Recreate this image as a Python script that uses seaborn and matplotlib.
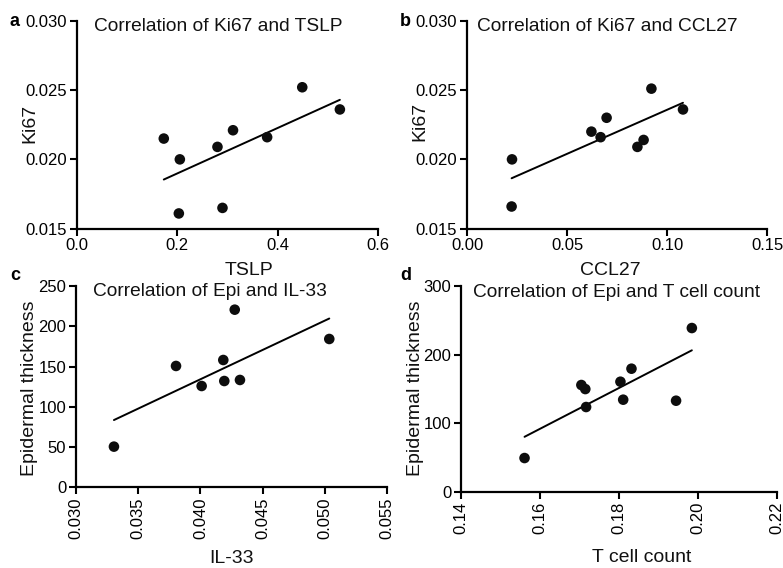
import numpy as np
import pandas as pd
import matplotlib
matplotlib.use("Agg")
import matplotlib.pyplot as plt
import seaborn as sns

sns.set_theme(style="ticks")
plt.rcParams['font.family'] = ['Liberation Sans', 'DejaVu Sans']

# Panel a: Ki67 vs TSLP
tslp = [0.173, 0.205, 0.203, 0.280, 0.290, 0.311, 0.379, 0.449, 0.524]
ki67_a = [0.0215, 0.0200, 0.0161, 0.0209, 0.0165, 0.0221, 0.0216, 0.0252, 0.0236]
# Panel b: Ki67 vs CCL27
ccl27 = [0.0225, 0.0223, 0.0622, 0.0668, 0.0698, 0.0852, 0.0883, 0.0922, 0.1080]
ki67_b = [0.0200, 0.0166, 0.0220, 0.0216, 0.0230, 0.0209, 0.0214, 0.0251, 0.0236]
# Panel c: Epidermal thickness vs IL-33
il33 = [0.03305, 0.03804, 0.0401, 0.04184, 0.04192, 0.04318, 0.04276, 0.05036]
epi_c = [50.5, 150.7, 125.8, 158.1, 132.0, 133.3, 220.6, 184.2]
# Panel d: Epidermal thickness vs T cell count
tcell = [0.1561, 0.1705, 0.1715, 0.1717, 0.1804, 0.1811, 0.1832, 0.1945, 0.1985]
epi_d = [49.1, 155.6, 149.7, 123.5, 160.4, 134.2, 179.4, 132.7, 238.7]

W, H = 783, 568
fig = plt.figure(figsize=(W / 100, H / 100), dpi=100)


def ax_at(l, r, t, b):
    return fig.add_axes([l / W, 1 - b / H, (r - l) / W, (b - t) / H])


panels = [
    dict(box=(77, 378, 20.7, 228.7), x=tslp, y=ki67_a, xl="TSLP", yl="Ki67",
         title="Correlation of Ki67 and TSLP", xlim=(0, 0.6), xt=[0.0, 0.2, 0.4, 0.6], xfmt="{:.1f}",
         ylim=(0.015, 0.030), yt=[0.015, 0.020, 0.025, 0.030], yfmt="{:.3f}", rot=0,
         xlc=(0.571, -0.199), ylc=(-0.156, 0.508), tpos=(94, 26.7), letter="a", lpos=(10, 21)),
    dict(box=(467, 767, 20.7, 228.7), x=ccl27, y=ki67_b, xl="CCL27", yl="Ki67",
         title="Correlation of Ki67 and CCL27", xlim=(0, 0.15), xt=[0.0, 0.05, 0.10, 0.15], xfmt="{:.2f}",
         ylim=(0.015, 0.030), yt=[0.015, 0.020, 0.025, 0.030], yfmt="{:.3f}", rot=0,
         xlc=(0.479, -0.199), ylc=(-0.157, 0.516), tpos=(477.3, 26.7), letter="b", lpos=(400, 21)),
    dict(box=(76, 387, 286, 487.3), x=il33, y=epi_c, xl="IL-33", yl="Epidermal thickness",
         title="Correlation of Epi and IL-33", xlim=(0.030, 0.055),
         xt=[0.030, 0.035, 0.040, 0.045, 0.050, 0.055], xfmt="{:.3f}",
         ylim=(0, 250), yt=[0, 50, 100, 150, 200, 250], yfmt="{:.0f}", rot=90,
         xlc=(0.50, -0.353), ylc=(-0.148, 0.492), tpos=(93.3, 291.7), letter="c", lpos=(10, 276)),
    dict(box=(461, 776.7, 286, 491.7), x=tcell, y=epi_d, xl="T cell count", yl="Epidermal thickness",
         title="Correlation of Epi and T cell count", xlim=(0.14, 0.22),
         xt=[0.14, 0.16, 0.18, 0.20, 0.22], xfmt="{:.2f}",
         ylim=(0, 300), yt=[0, 100, 200, 300], yfmt="{:.0f}", rot=90,
         xlc=(0.573, -0.319), ylc=(-0.143, 0.505), tpos=(472.7, 292.7), letter="d", lpos=(400, 276)),
]

for p in panels:
    ax = ax_at(*p["box"])
    df = pd.DataFrame({"x": p["x"], "y": p["y"]})
    sns.regplot(data=df, x="x", y="y", ax=ax, ci=None, color="black",
                scatter_kws=dict(s=58, color="#0d0d0d", edgecolor="none", alpha=1, zorder=3),
                line_kws=dict(color="black", lw=1.4))
    ax.set_xlim(*p["xlim"])
    ax.set_ylim(*p["ylim"])
    ax.set_xticks(p["xt"])
    ax.set_xticklabels([p["xfmt"].format(v) for v in p["xt"]], rotation=p["rot"])
    ax.set_yticks(p["yt"])
    ax.set_yticklabels([p["yfmt"].format(v) for v in p["yt"]])
    ax.tick_params(direction="out", length=5, width=1.5, colors="black", labelsize=12, pad=2)
    for s in ("top", "right"):
        ax.spines[s].set_visible(False)
    for s in ("left", "bottom"):
        ax.spines[s].set_linewidth(1.6)
        ax.spines[s].set_color("black")
    ax.set_xlabel(p["xl"], fontsize=14, color="#111111")
    ax.set_ylabel(p["yl"], fontsize=14, color="#111111")
    ax.xaxis.set_label_coords(*p["xlc"])
    ax.yaxis.set_label_coords(*p["ylc"])
    ax.xaxis.label.set_va("center")
    ax.yaxis.label.set_va("center")
    ax.set_clip_on(False)
    fig.text(p["tpos"][0] / W, 1 - p["tpos"][1] / H, p["title"], fontsize=13.8,
             ha="left", va="center", color="#111111")
    fig.text(p["lpos"][0] / W, 1 - p["lpos"][1] / H, p["letter"], fontsize=13,
             fontweight="bold", ha="left", va="center", color="black")

fig.savefig("out.png", dpi=100)
